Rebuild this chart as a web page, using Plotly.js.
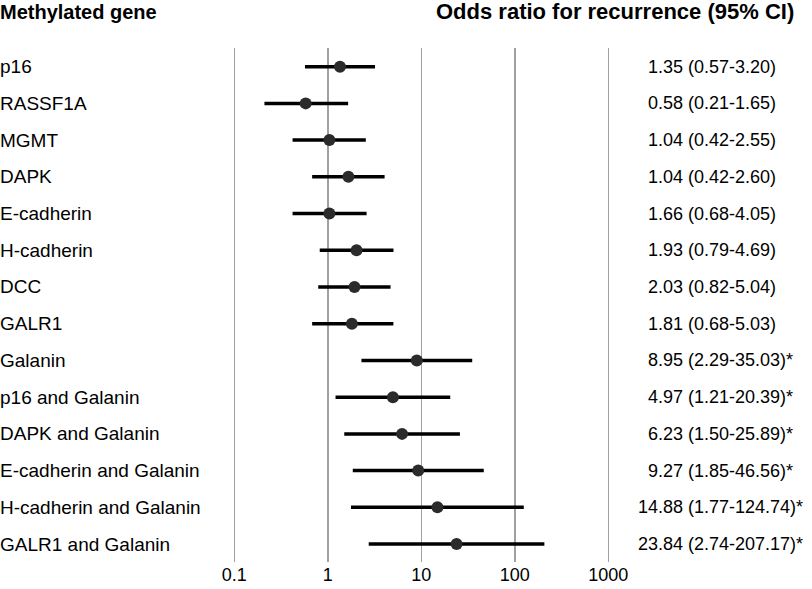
<!DOCTYPE html>
<html>
<head>
<meta charset="utf-8">
<script src="https://cdn.plot.ly/plotly-3.0.1.min.js"></script>
<style>html,body{margin:0;padding:0;background:#fff;}#chart{width:812px;height:589px;}</style>
</head>
<body>
<div id="chart"></div>
<script>
// Row labels (top to bottom)
const genes = ["p16","RASSF1A","MGMT","DAPK","E-cadherin","H-cadherin","DCC","GALR1","Galanin",
  "p16 and Galanin","DAPK and Galanin","E-cadherin and Galanin","H-cadherin and Galanin","GALR1 and Galanin"];
// Plotted odds ratios and 95% CI (as drawn in the picture)
const oddsRatio = [1.35,0.58,1.04,1.66,1.04,2.03,1.93,1.81,8.95,4.97,6.23,9.27,14.88,23.84];
const ciLow  = [0.57,0.21,0.42,0.68,0.42,0.82,0.79,0.68,2.29,1.21,1.50,1.85,1.77,2.74];
const ciHigh = [3.20,1.65,2.55,4.05,2.60,5.04,4.69,5.03,35.03,20.39,25.89,46.56,124.74,207.17];
// Printed text column (as shown on the right)
const orText = ["1.35","0.58","1.04","1.04","1.66","1.93","2.03","1.81","8.95","4.97","6.23","9.27","14.88","23.84"];
const ciText = ["(0.57-3.20)","(0.21-1.65)","(0.42-2.55)","(0.42-2.60)","(0.68-4.05)","(0.79-4.69)","(0.82-5.04)",
  "(0.68-5.03)","(2.29-35.03)*","(1.21-20.39)*","(1.50-25.89)*","(1.85-46.56)*","(1.77-124.74)*","(2.74-207.17)*"];
const tickVals = [0.1,1,10,100,1000];
const tickText = ["0.1","1","10","100","1000"];

const W = 812, H = 589;
const FONT = "Liberation Sans, Arial, Helvetica, sans-serif";

const trace = {
  type: "scatter", mode: "markers",
  x: oddsRatio, y: genes,
  marker: {size: 12, color: "#2b2b2b"},
  error_x: {
    type: "data", symmetric: false,
    array: oddsRatio.map((v,i)=>ciHigh[i]-v),
    arrayminus: oddsRatio.map((v,i)=>v-ciLow[i]),
    color: "#000", thickness: 3.5, width: 0
  },
  hoverinfo: "skip", showlegend: false, cliponaxis: false
};

const ann = [];
ann.push({xref:"paper", yref:"paper", x: 0/W, y: 1-12/H, xanchor:"left", yanchor:"middle",
  text:"<b>Methylated gene</b>", showarrow:false, font:{family:FONT, size:20, color:"#000"}, borderpad:0, borderwidth:0});
ann.push({xref:"paper", yref:"paper", x: 794/W, y: 1-12/H, xanchor:"right", yanchor:"middle",
  text:"<b>Odds ratio for recurrence (95% CI)</b>", showarrow:false, font:{family:FONT, size:22, color:"#000"}, borderpad:0, borderwidth:0});
genes.forEach((g,i)=>{
  ann.push({xref:"paper", yref:"y", x: 0, y: g, xanchor:"left", yanchor:"middle", text: g, showarrow:false,
    font:{family:FONT, size:19, color:"#000"}, borderpad:0, borderwidth:0});
  ann.push({xref:"paper", yref:"y", x: 682.7/W, y: g, xanchor:"right", yanchor:"middle", text: orText[i], showarrow:false,
    font:{family:FONT, size:18, color:"#000"}, borderpad:0, borderwidth:0});
  ann.push({xref:"paper", yref:"y", x: 687.7/W, y: g, xanchor:"left", yanchor:"middle", text: ciText[i], showarrow:false,
    font:{family:FONT, size:18, color:"#000"}, borderpad:0, borderwidth:0});
});

const layout = {
  width: W, height: H,
  margin: {l:0, r:0, t:0, b:0},
  paper_bgcolor: "#fff", plot_bgcolor: "#fff",
  font: {family: FONT, size: 18, color: "#000"},
  xaxis: {
    type: "log", range: [-1.3, 3.3],
    domain: [206.25/W, 636.35/W],
    tickvals: tickVals, ticktext: tickText,
    showgrid: true, gridcolor: "#a0a0a0", gridwidth: 1.5,
    zeroline: false, showline: false,
    ticks: "",
    tickfont: {family: FONT, size: 18, color: "#000"},
    fixedrange: true
  },
  yaxis: {
    type: "category", categoryorder: "array", categoryarray: genes,
    range: [13.5, -0.5],
    domain: [1-562.4/H, 1-48.3/H],
    showgrid: false, zeroline: false, showline: false, showticklabels: false, ticks: "",
    fixedrange: true
  },
  annotations: ann
};

Plotly.newPlot("chart", [trace], layout, {displayModeBar: false, staticPlot: true});
</script>
</body>
</html>
